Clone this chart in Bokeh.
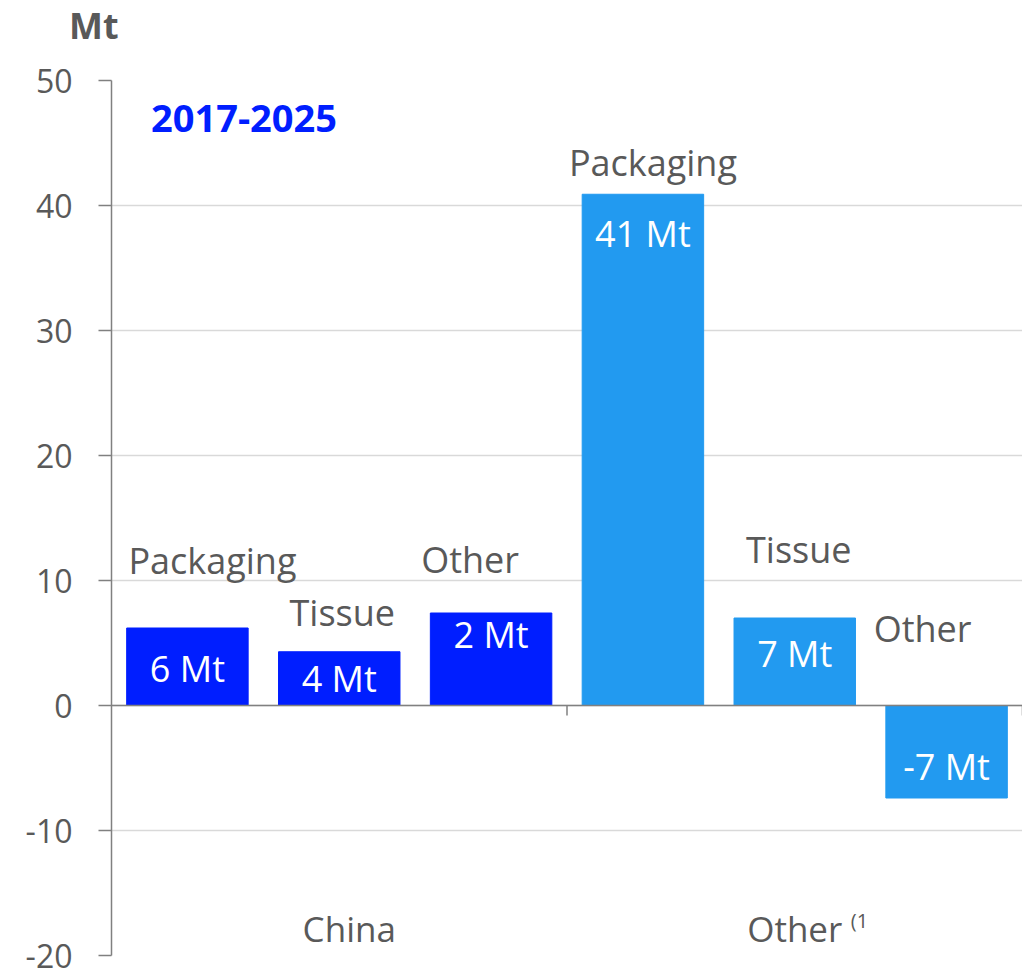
from bokeh.plotting import figure
from bokeh.models import ColumnDataSource, Span, Div, FixedTicker, PrintfTickFormatter
from bokeh.layouts import column
from bokeh.core.properties import value
from bokeh.embed import file_html
from bokeh.resources import INLINE

# ---- data ----
groups = ["China", "Other"]
group_footnotes = ["", "(1"]
categories = ["Packaging", "Tissue", "Other"]
china_values = [6.2, 4.3, 7.4]
other_values = [40.9, 7.0, -7.4]
value_labels = ["6 Mt", "4 Mt", "2 Mt", "41 Mt", "7 Mt", "-7 Mt"]
y_ticks = [-20, -10, 0, 10, 20, 30, 40, 50]
period_label = "2017-2025"
unit_label = "Mt"

# ---- style ----
FONT = "Open Sans"
GREY = "#595959"
COLORS = ["#001EFF", "#229AF0"]
cat_label_dx = [25, 3, -21, 10, 4, -24]           # px
cat_label_dy = [-68, -39, -54, -32, -69, -77]     # px, relative to bar top / zero
value_label_dy = [40, 27, 21, 39, 35, -32]        # px, relative to bar end
group_label_dx = [10, 0]
HEADER_H = 44

vals = china_values + other_values
n_per_group = len(categories)
xs = [i + 0.5 for i in range(len(vals))]
colors = [COLORS[i // n_per_group] for i in range(len(vals))]
cats = categories * len(groups)

src = ColumnDataSource(dict(
    x=xs, top=vals, color=colors, cat=cats, vlab=value_labels,
    cat_y=[max(v, 0) for v in vals], cat_dx=cat_label_dx, cat_dy=cat_label_dy,
    v_dy=value_label_dy,
))

p = figure(width=1022, height=968 - HEADER_H, output_backend="svg", toolbar_location=None,
           x_range=(0, len(vals)), y_range=(y_ticks[0], y_ticks[-1]),
           min_border_left=111, min_border_right=0, min_border_top=80 - HEADER_H,
           min_border_bottom=13, outline_line_color=None)

p.vbar(x="x", top="top", bottom=0, width=0.8, color="color", source=src)

# zero line
p.add_layout(Span(location=0, dimension="width", line_color="#808080", line_width=1.5))
# group boundary ticks
bx = [n_per_group * (g + 1) for g in range(len(groups))]
p.segment(x0=bx, x1=bx, y0=[0] * len(bx), y1=[-0.8] * len(bx),
          line_color="#808080", line_width=1.5)

p.text(x="x", y="top", text="vlab", source=src, y_offset="v_dy",
       text_font=value(FONT), text_font_size="36px", text_color="white",
       text_align="center", text_baseline="middle")
p.text(x="x", y="cat_y", text="cat", source=src, x_offset="cat_dx", y_offset="cat_dy",
       text_font=value(FONT), text_font_size="36px", text_color=GREY,
       text_align="center", text_baseline="middle")

# group labels
gx = [n_per_group * g + n_per_group / 2 for g in range(len(groups))]
p.text(x=gx, y=[-17.8] * len(gx), text=groups, x_offset=group_label_dx,
       text_font=value(FONT), text_font_size="35px", text_color=GREY,
       text_align="center", text_baseline="middle")
p.text(x=gx, y=[-17.8] * len(gx), text=group_footnotes, x_offset=56, y_offset=-8,
       text_font=value(FONT), text_font_size="20px", text_color=GREY,
       text_align="left", text_baseline="middle")

p.text(x=[0.26], y=[47.0], text=[period_label],
       text_font=value(FONT), text_font_size="38px", text_font_style="bold",
       text_color="#001EFF", text_align="left", text_baseline="middle")

p.xaxis.visible = False
p.xgrid.grid_line_color = None
p.ygrid.grid_line_color = "#D9D9D9"
p.ygrid.grid_line_width = 1.5
p.yaxis.ticker = FixedTicker(ticks=y_ticks)
p.yaxis.formatter = PrintfTickFormatter(format="%d")
p.yaxis.axis_line_color = "#808080"
p.yaxis.axis_line_width = 1.5
p.yaxis.major_tick_line_color = "#808080"
p.yaxis.major_tick_line_width = 1.5
p.yaxis.major_tick_out = 13
p.yaxis.major_tick_in = 0
p.yaxis.minor_tick_line_color = None
p.yaxis.major_label_standoff = 26
p.yaxis.major_label_text_font = FONT
p.yaxis.major_label_text_font_size = "32px"
p.yaxis.major_label_text_color = GREY

header = Div(text=unit_label, width=300, height=HEADER_H, margin=0,
             styles={"font-family": FONT, "font-size": "36px", "font-weight": "bold",
                     "color": GREY, "line-height": "36px", "padding-top": "8px",
                     "padding-left": "69px", "box-sizing": "border-box"})

layout = column(header, p, spacing=0)
open("out.html", "w").write(file_html(layout, INLINE))
